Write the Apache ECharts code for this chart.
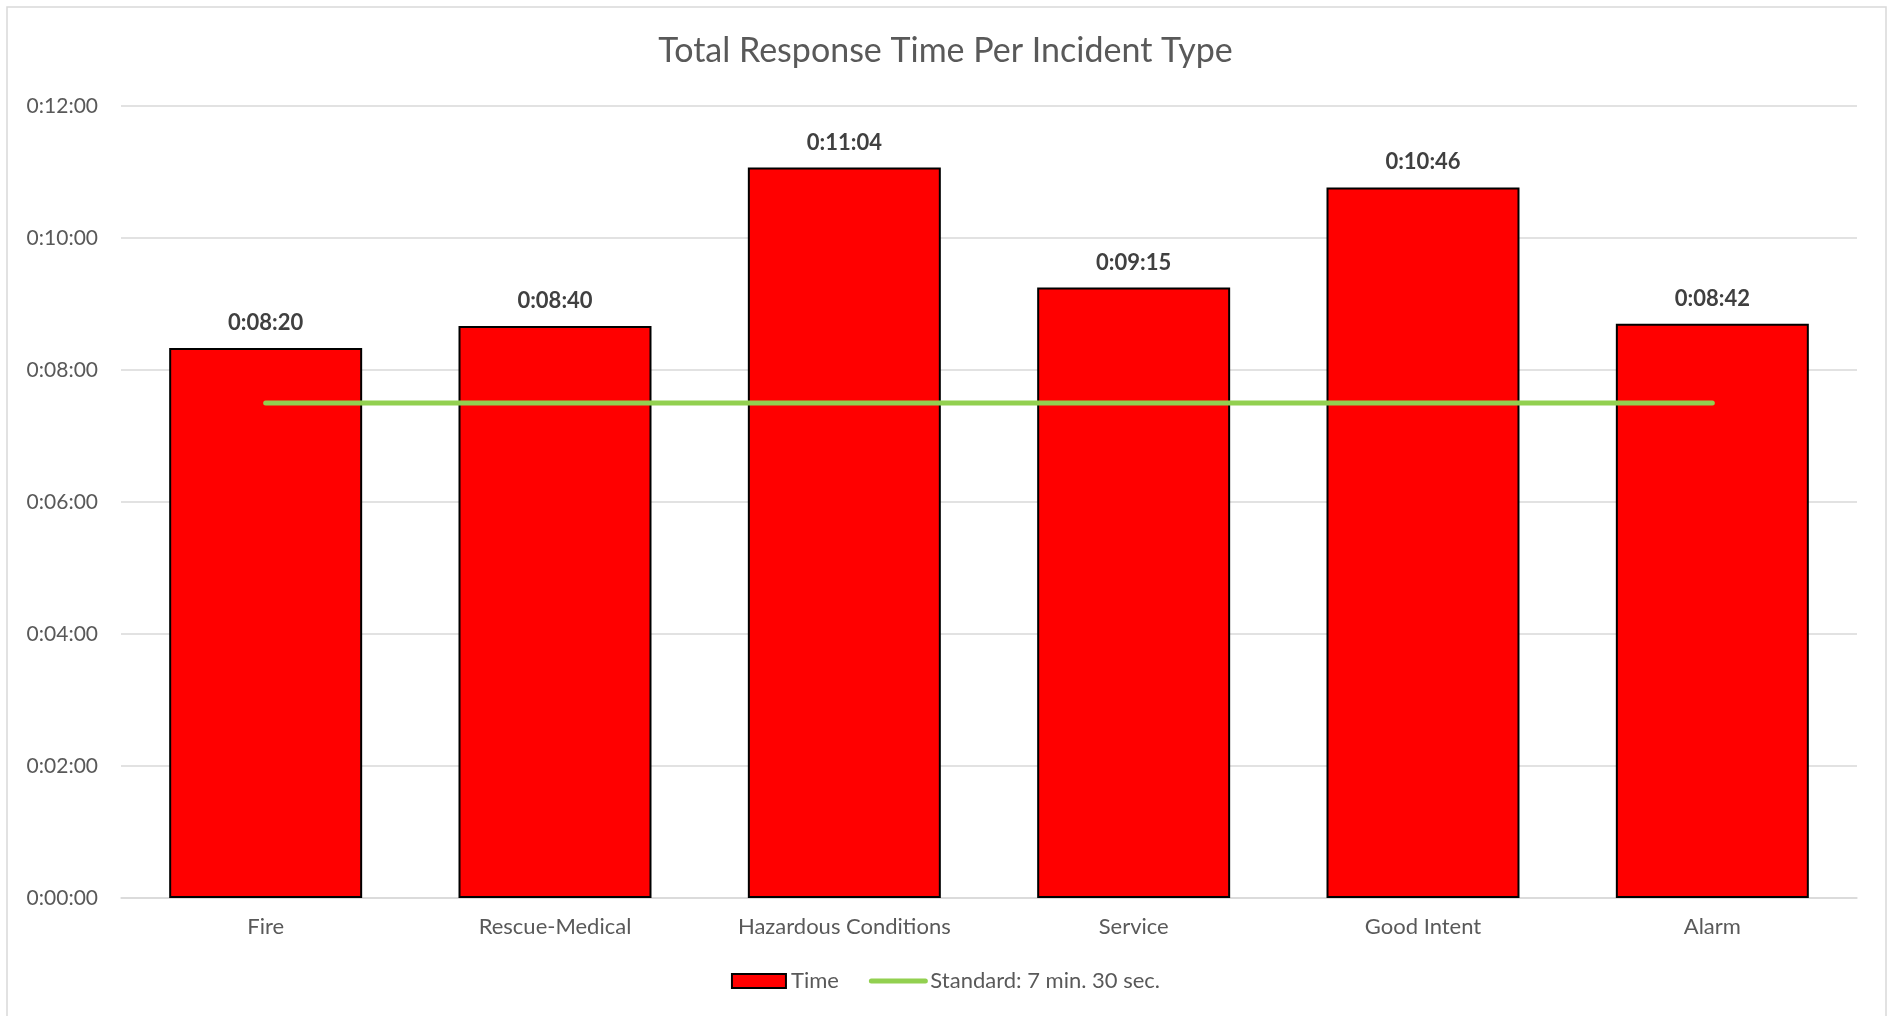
<!DOCTYPE html>
<html>
<head>
<meta charset="utf-8">
<script src="https://cdn.jsdelivr.net/npm/echarts@6/dist/echarts.min.js"></script>
<style>
html,body{margin:0;padding:0;background:#fff;}
#chart{width:1891px;height:1016px;}
</style>
</head>
<body>
<div id="chart"></div>
<script>
// Data (seconds)
const categories = ['Fire', 'Rescue-Medical', 'Hazardous Conditions', 'Service', 'Good Intent', 'Alarm'];
const timeValues = [500, 520, 664, 555, 646, 522];
const standardValues = [450, 450, 450, 450, 450, 450];
const yTicks = [0, 120, 240, 360, 480, 600, 720];
const seriesNames = ['Time', 'Standard: 7 min. 30 sec.'];
const titleText = 'Total Response Time Per Incident Type';

function fmt(sec) {
  const h = Math.floor(sec / 3600);
  const m = Math.floor((sec % 3600) / 60);
  const s = Math.round(sec % 60);
  return h + ':' + String(m).padStart(2, '0') + ':' + String(s).padStart(2, '0');
}

const FONT = 'Lato, "Open Sans", sans-serif';
const chart = echarts.init(document.getElementById('chart'));
chart.setOption({
  backgroundColor: '#fff',
  animation: false,
  graphic: [{
    type: 'rect',
    shape: { x: 7, y: 7, width: 1879, height: 1030 },
    style: { fill: 'none', stroke: '#D9D9D9', lineWidth: 1.5 },
    silent: true
  }],
  title: {
    text: titleText,
    left: 'center',
    top: 29,
    textStyle: { fontFamily: FONT, fontSize: 34, fontWeight: 'normal', color: '#595959' }
  },
  legend: {
    bottom: 19,
    left: 'center',
    itemWidth: 54,
    itemHeight: 14,
    itemGap: 30,
    textStyle: { fontFamily: FONT, fontSize: 22, color: '#595959' },
    data: [
      { name: seriesNames[0], icon: 'rect' },
      {
        name: seriesNames[1],
        itemStyle: { color: 'rgba(0,0,0,0)', borderWidth: 0 },
        lineStyle: { width: 5, cap: 'round', color: '#92D050' }
      }
    ]
  },
  grid: { left: 121, right: 34, top: 106, bottom: 118 },
  xAxis: {
    type: 'category',
    data: categories,
    boundaryGap: true,
    axisLine: { show: true, lineStyle: { color: '#D9D9D9', width: 1.5 } },
    axisTick: { show: false },
    axisLabel: { fontFamily: FONT, fontSize: 22, color: '#595959', margin: 18 }
  },
  yAxis: {
    type: 'value',
    min: yTicks[0],
    max: yTicks[yTicks.length - 1],
    interval: 120,
    axisLine: { show: false },
    axisTick: { show: false },
    splitLine: { lineStyle: { color: '#D9D9D9', width: 1.5 } },
    axisLabel: { fontFamily: FONT, fontSize: 21, color: '#595959', margin: 23, formatter: fmt }
  },
  series: [
    {
      name: seriesNames[0],
      type: 'bar',
      data: timeValues,
      barCategoryGap: '33.3%',
      itemStyle: { color: '#FF0000', borderColor: '#000000', borderWidth: 2 },
      label: {
        show: true,
        position: 'top',
        distance: 14,
        fontFamily: FONT,
        fontSize: 22,
        fontWeight: 'bold',
        color: '#404040',
        formatter: p => fmt(p.value)
      },
      z: 2
    },
    {
      name: seriesNames[1],
      type: 'line',
      data: standardValues,
      symbol: 'none',
      lineStyle: { color: '#92D050', width: 5, cap: 'round' },
      itemStyle: { color: '#92D050' },
      z: 3
    }
  ]
});
</script>
</body>
</html>
